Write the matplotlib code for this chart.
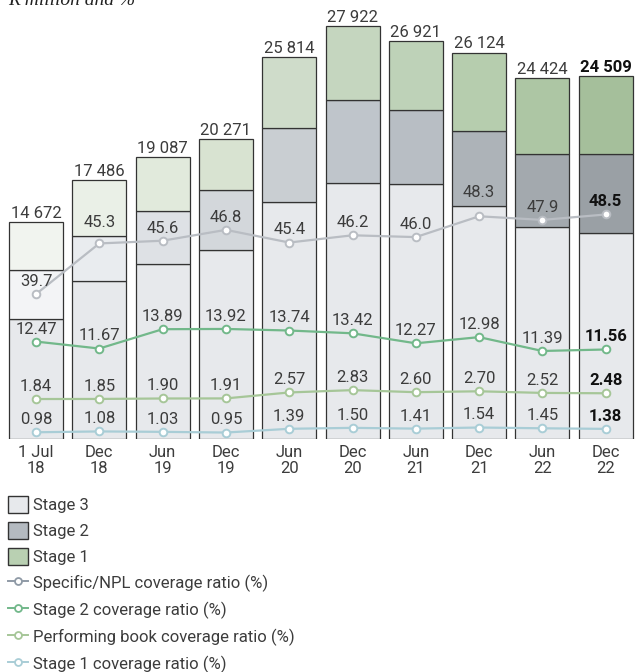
import matplotlib
matplotlib.use("Agg")
import matplotlib.pyplot as plt
from matplotlib.patches import Patch
from matplotlib.lines import Line2D

periods = ["1 Jul\n18", "Dec\n18", "Jun\n19", "Dec\n19", "Jun\n20",
           "Dec\n20", "Jun\n21", "Dec\n21", "Jun\n22", "Dec\n22"]
totals = [14672, 17486, 19087, 20271, 25814, 27922, 26921, 26124, 24424, 24509]
stage3 = [8113, 10683, 11832, 12780, 16025, 17310, 17242, 15754, 14334, 13929]
stage2 = [3313, 3043, 3583, 4057, 5003, 5612, 5003, 5071, 4936, 5341]
stage1 = [3246, 3760, 3672, 3434, 4786, 5000, 4676, 5299, 5154, 5239]

npl_cov = [39.7, 45.3, 45.6, 46.8, 45.4, 46.2, 46.0, 48.3, 47.9, 48.5]
stage2_cov = [12.47, 11.67, 13.89, 13.92, 13.74, 13.42, 12.27, 12.98, 11.39, 11.56]
perf_cov = [1.84, 1.85, 1.90, 1.91, 2.57, 2.83, 2.60, 2.70, 2.52, 2.48]
stage1_cov = [0.98, 1.08, 1.03, 0.95, 1.39, 1.50, 1.41, 1.54, 1.45, 1.38]

# colours get darker from left to right
s1_colors = ["#f1f4ef", "#eaf0e7", "#e1eadc", "#d8e3d1", "#cfdcca",
             "#c5d6bf", "#bed2b8", "#b6cdae", "#adc6a4", "#a5bf9b"]
s2_colors = ["#f3f4f6", "#e9ecef", "#dee1e5", "#d3d7db", "#c9ced2",
             "#bfc5cb", "#b8bec4", "#adb3b8", "#a3a9ae", "#9aa0a5"]
s3_color = "#e7e9ec"
txt = "#3c3c3c"
fs = 12

plt.rcParams["font.family"] = ["Roboto", "DejaVu Sans"]

fig = plt.figure(figsize=(6.35, 6.72), dpi=100)
ax = fig.add_axes([0, 233 / 672, 1, 439 / 672])
x = list(range(len(periods)))
w = 54 / 63.3
edge = dict(edgecolor="#333333", linewidth=0.9)

ax.bar(x, stage3, w, color=s3_color, **edge, zorder=2)
ax.bar(x, stage2, w, bottom=stage3, color=s2_colors, **edge, zorder=2)
b12 = [a + b for a, b in zip(stage3, stage2)]
ax.bar(x, stage1, w, bottom=b12, color=s1_colors, **edge, zorder=2)

for i, t in enumerate(totals):
    ax.annotate(f"{t:,}".replace(",", " "), (i, t), xytext=(0, 3),
                textcoords="offset points", ha="center", va="baseline",
                fontsize=fs, color="#111111" if i == 9 else txt,
                fontweight="bold" if i == 9 else "normal")

ax.set_xlim(-36 / 63.3, (635 - 36) / 63.3)
ax.set_ylim(0, 29680)
ax.set_xticks(x, periods)
ax.tick_params(length=0, pad=4, labelsize=fs, labelcolor=txt)
for lab in ax.get_xticklabels():
    lab.set_linespacing(1.1)
ax.set_yticks([])
for s in ax.spines.values():
    s.set_visible(False)

lines = [
    ("Specific/NPL coverage ratio (%)", npl_cov, "#b9bdc3", "#8f9aa6", (23.69, 72.2)),
    ("Stage 2 coverage ratio (%)", stage2_cov, "#72b88a", "#72b88a", (1.28, 51.7)),
    ("Performing book coverage ratio (%)", perf_cov, "#a6c698", "#a6c698", (-2.60, 46.17)),
    ("Stage 1 coverage ratio (%)", stage1_cov, "#a9cdd6", "#a9cdd6", (0.19, 51.8)),
]
nudge = {(0, 1): 11.5, (0, 7): 13.7, (1, 1): 6.5}

handles = [Patch(facecolor=s3_color, edgecolor="#333333", label="Stage 3"),
           Patch(facecolor="#b4bac0", edgecolor="#333333", label="Stage 2"),
           Patch(facecolor="#b9d0b2", edgecolor="#333333", label="Stage 1")]

for k, (name, vals, col, lcol, lim) in enumerate(lines):
    tw = ax.twinx()
    tw.set_ylim(*lim)
    tw.axis("off")
    tw.plot(x, vals, color=col, lw=1.6, marker="o", ms=5.5, mfc="white",
            mec=col, mew=1.4, zorder=3)
    for i, v in enumerate(vals):
        fmt = f"{v:.1f}" if k == 0 else f"{v:.2f}"
        tw.annotate(fmt, (i, v), xytext=(0, nudge.get((k, i), 5.8)),
                    textcoords="offset points", ha="center", va="baseline",
                    fontsize=fs, color="#111111" if i == 9 else txt,
                    fontweight="bold" if i == 9 else "normal")
    handles.append(Line2D([], [], color=lcol, lw=1.4, marker="o", ms=5,
                          mfc="white", mec=lcol, mew=1.3, label=name))

fig.legend(handles=handles, loc="upper left",
           bbox_to_anchor=(8 / 635, 1 - 496 / 672), frameon=False,
           fontsize=fs, handlelength=1.2, handleheight=1.2,
           labelspacing=0.53, handletextpad=0.3, borderpad=0,
           borderaxespad=0, labelcolor=txt)

fig.text(8 / 635, 1 - 5 / 672, "R million and %", fontsize=14,
         family="Liberation Serif", style="italic", color="#222222",
         va="baseline")

fig.savefig("out.png", dpi=100)
